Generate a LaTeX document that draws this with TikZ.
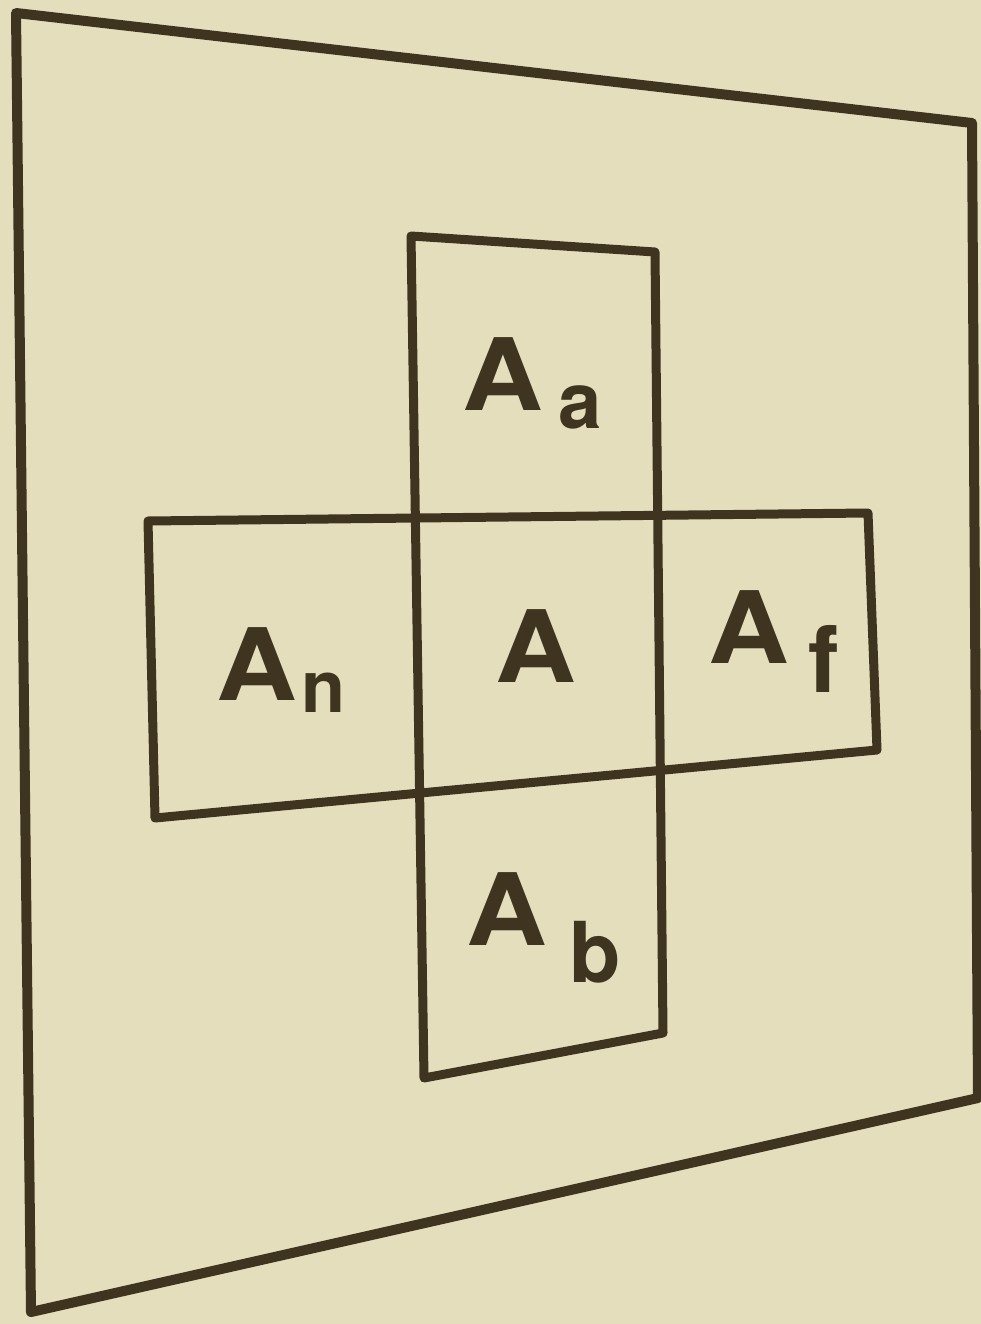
\documentclass[tikz,border=0pt]{standalone}
\usepackage{graphicx}
\usepackage{fontspec}
\setmainfont{TeX Gyre Heros}
\definecolor{paper}{RGB}{229,222,188}
\definecolor{ink}{RGB}{62,52,32}
\tikzset{
  frame/.style={draw=ink, line width=10pt, line join=round, line cap=round},
  panel/.style={draw=ink, line width=9pt, line join=round, line cap=round},
  lab/.style={anchor=base west, inner sep=0pt, text=ink, font=\bfseries}
}
\newcommand{\wideA}{\scalebox{1.12}[1]{\fontsize{100}{100}\selectfont A}}
\begin{document}
\begin{tikzpicture}[x=1pt,y=-1pt]
  \fill[paper] (0,0) rectangle (981,1324);
  \useasboundingbox (0,0) rectangle (981,1324);
  % outer plane
  \coordinate (o1) at (16,13);
  \coordinate (o2) at (972,123);
  \coordinate (o3) at (978,1098);
  \coordinate (o4) at (31,1312);
  \draw[frame] (o1) -- (o2) -- (o3) -- (o4) -- cycle;
  % vertical strip
  \coordinate (v1) at (411,236);
  \coordinate (v2) at (655,252);
  \coordinate (v3) at (663,1033);
  \coordinate (v4) at (424,1078);
  \draw[panel] (v1) -- (v2) -- (v3) -- (v4) -- cycle;
  % horizontal strip
  \coordinate (h1) at (148,521);
  \coordinate (h2) at (868,513);
  \coordinate (h3) at (877,750);
  \coordinate (h4) at (155,818);
  \draw[panel] (h1) -- (h2) -- (h3) -- (h4) -- cycle;
  % labels
  \node[lab] (Aa) at (462,410) {\wideA\hspace{15pt}\raisebox{-18pt}{\fontsize{78}{78}\selectfont a}};
  \node[lab] (A)  at (495,682) {\wideA};
  \node[lab] (An) at (216,700) {\wideA\hspace{4pt}\raisebox{-12pt}{\fontsize{72}{72}\selectfont n}};
  \node[lab] (Af) at (708,663) {\wideA\hspace{19pt}\raisebox{-29pt}{\fontsize{92}{92}\selectfont f}};
  \node[lab] (Ab) at (466,945) {\wideA\hspace{22pt}\raisebox{-37pt}{\fontsize{84}{84}\selectfont b}};
\end{tikzpicture}
\end{document}
